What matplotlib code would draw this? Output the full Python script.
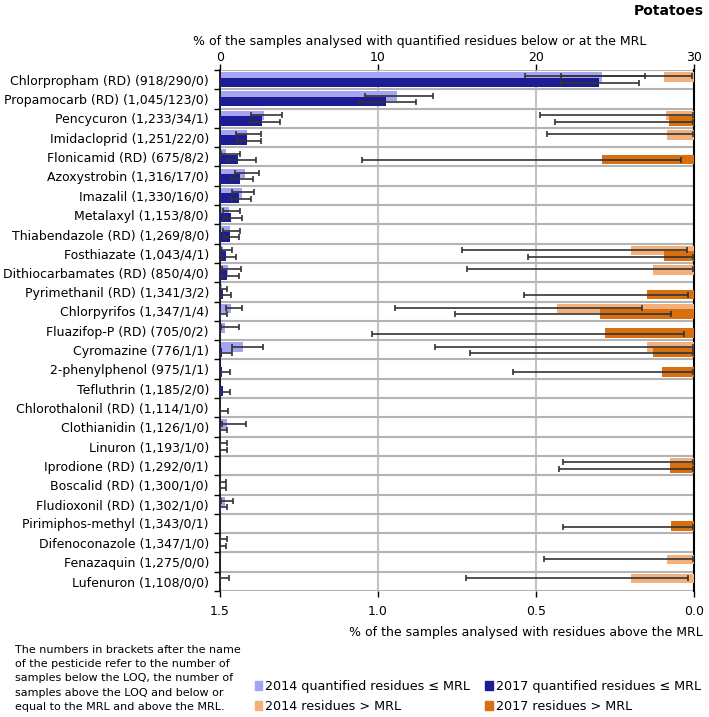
import numpy as np
import matplotlib
matplotlib.use('Agg')
import matplotlib.pyplot as plt
from matplotlib.patches import Patch

plt.rcParams['font.family'] = ['DejaVu Sans']

# -------------------------------
# Data
# -------------------------------
pesticides = [
    'Chlorpropham (RD) (918/290/0)', 'Propamocarb (RD) (1,045/123/0)',
    'Pencycuron (1,233/34/1)', 'Imidacloprid (1,251/22/0)',
    'Flonicamid (RD) (675/8/2)', 'Azoxystrobin (1,316/17/0)',
    'Imazalil (1,330/16/0)', 'Metalaxyl (1,153/8/0)',
    'Thiabendazole (RD) (1,269/8/0)', 'Fosthiazate (1,043/4/1)',
    'Dithiocarbamates (RD) (850/4/0)', 'Pyrimethanil (RD) (1,341/3/2)',
    'Chlorpyrifos (1,347/1/4)', 'Fluazifop-P (RD) (705/0/2)',
    'Cyromazine (776/1/1)', '2-phenylphenol (975/1/1)',
    'Tefluthrin (1,185/2/0)', 'Chlorothalonil (RD) (1,114/1/0)',
    'Clothianidin (1,126/1/0)', 'Linuron (1,193/1/0)',
    'Iprodione (RD) (1,292/0/1)', 'Boscalid (RD) (1,300/1/0)',
    'Fludioxonil (RD) (1,302/1/0)', 'Pirimiphos-methyl (1,343/0/1)',
    'Difenoconazole (1,347/1/0)', 'Fenazaquin (1,275/0/0)',
    'Lufenuron (1,108/0/0)',
]
nan = np.nan

# % quantified residues <= MRL, 2014 (value, CI low, CI high)
q2014 = [24.2, 11.2, 2.78, 1.73, 0.36, 1.58, 1.37, 0.57, 0.61, 0.21, 0.51, 0.10, 0.72, 0.34,
         1.48, nan, nan, nan, 0.46, 0.08, nan, 0.07, 0.30, nan, 0.07, nan, 0.05]
q2014_lo = [19.3, 9.2, 1.94, 1.03, 0.08, 0.95, 0.78, 0.21, 0.20, 0.04, 0.10, 0.0, 0.36, 0.04,
            0.74, nan, nan, nan, 0.15, 0.0, nan, 0.0, 0.04, nan, 0.0, nan, 0.0]
q2014_hi = [26.9, 13.5, 3.95, 2.62, 1.24, 2.45, 2.15, 1.27, 1.25, 0.78, 1.35, 0.42, 1.37, 1.18,
            2.72, nan, nan, nan, 1.62, 0.46, nan, 0.40, 0.84, nan, 0.42, nan, 0.57]

# % quantified residues <= MRL, 2017
q2017 = [24.0, 10.5, 2.68, 1.73, 1.17, 1.28, 1.19, 0.69, 0.63, 0.38, 0.47, 0.22, 0.074, nan,
         0.129, 0.102, 0.168, 0.09, 0.089, 0.084, nan, 0.077, 0.077, nan, 0.074, nan, nan]
q2017_lo = [21.6, 8.8, 1.88, 1.10, 0.46, 0.72, 0.68, 0.25, 0.25, 0.10, 0.15, 0.04, 0.0, nan,
            0.0, 0.0, 0.0, 0.0, 0.0, 0.0, nan, 0.0, 0.0, nan, 0.0, nan, nan]
q2017_hi = [26.5, 12.4, 3.78, 2.62, 2.30, 2.07, 1.94, 1.37, 1.23, 0.99, 1.20, 0.68, 0.42, nan,
            0.74, 0.61, 0.63, 0.53, 0.46, 0.46, nan, 0.40, 0.42, nan, 0.38, nan, nan]

# % residues > MRL, 2014
m2014 = [0.095, nan, 0.089, 0.084, nan, nan, nan, nan, nan, 0.20, 0.129, nan, 0.435, nan,
         0.148, nan, nan, nan, nan, nan, 0.076, nan, nan, nan, nan, 0.084, 0.20]
m2014_lo = [0.005, nan, 0.002, 0.002, nan, nan, nan, nan, nan, 0.023, 0.002, nan, 0.163, nan,
            0.002, nan, nan, nan, nan, nan, 0.002, nan, nan, nan, nan, 0.002, 0.018]
m2014_hi = [0.42, nan, 0.487, 0.465, nan, nan, nan, nan, nan, 0.734, 0.719, nan, 0.946, nan,
            0.818, nan, nan, nan, nan, nan, 0.416, nan, nan, nan, nan, 0.476, 0.72]

# % residues > MRL, 2017
m2017 = [nan, nan, 0.079, nan, 0.292, nan, nan, nan, nan, 0.095, nan, 0.148, 0.296, 0.283,
         0.129, 0.102, nan, nan, nan, nan, 0.077, nan, nan, 0.074, nan, nan, nan]
m2017_lo = [nan, nan, 0.002, nan, 0.041, nan, nan, nan, nan, 0.002, nan, 0.018, 0.074, 0.032,
            0.002, 0.002, nan, nan, nan, nan, 0.002, nan, nan, 0.002, nan, nan, nan]
m2017_hi = [nan, nan, 0.439, nan, 1.05, nan, nan, nan, nan, 0.525, nan, 0.538, 0.756, 1.02,
            0.709, 0.572, nan, nan, nan, nan, 0.427, nan, nan, 0.415, nan, nan, nan]

# -------------------------------
# Colours
# -------------------------------
C14Q = '#a4a4f0'
C17Q = '#1c1c94'
C14M = '#f4b07a'
C17M = '#d9700f'
ERR = '#333333'
FS = 9

fig = plt.figure(figsize=(7.09, 7.17), dpi=100)
ax = fig.add_axes([0.3103, 0.1757, 0.6685, 0.7267])
ax2 = ax.twiny()

y = np.arange(len(pesticides))
OFF_BAR = 0.14
OFF_ERR = 0.17
H = 0.5


def draw(axis, vals, lo, hi, yoff, color, z):
    vals = np.array(vals, dtype=float)
    lo = np.array(lo, dtype=float)
    hi = np.array(hi, dtype=float)
    axis.barh(y + yoff, np.nan_to_num(vals), height=H, color=color, zorder=z)
    ok = ~np.isnan(vals)
    return ok, vals, lo, hi


# quantified residues (top axis, 0..30)
s14 = draw(ax, q2014, q2014_lo, q2014_hi, -OFF_BAR, C14Q, 2)
s17 = draw(ax, q2017, q2017_lo, q2017_hi, OFF_BAR, C17Q, 3)
for (ok, v, lo, hi), off in [(s14, -OFF_ERR), (s17, OFF_ERR)]:
    ax.errorbar(v[ok], y[ok] + off, xerr=[v[ok] - lo[ok], hi[ok] - v[ok]], fmt='none',
                ecolor=ERR, elinewidth=1.2, capsize=2.2, capthick=1.2, zorder=5)

# residues above MRL (bottom axis, reversed 1.5..0)
s14m = draw(ax2, m2014, m2014_lo, m2014_hi, -OFF_BAR, C14M, 2)
s17m = draw(ax2, m2017, m2017_lo, m2017_hi, OFF_BAR, C17M, 3)
for (ok, v, lo, hi), off in [(s14m, -OFF_ERR), (s17m, OFF_ERR)]:
    ax2.errorbar(v[ok], y[ok] + off, xerr=[v[ok] - lo[ok], hi[ok] - v[ok]], fmt='none',
                 ecolor=ERR, elinewidth=1.2, capsize=2.2, capthick=1.2, zorder=5)

# row separators
for b in np.arange(-0.5, len(pesticides), 1):
    ax.axhline(b, color='#b4b4b4', lw=1.5, zorder=1)

ax.set_ylim(len(pesticides) - 0.5, -0.5)
ax.set_xlim(0, 30)
ax2.set_xlim(1.5, 0)

ax.set_yticks(y)
ax.set_yticklabels(pesticides, fontsize=FS)
ax.set_yticks(np.arange(-0.5, len(pesticides), 1), minor=True)
ax.tick_params(axis='y', which='major', length=0, pad=8)
ax.tick_params(axis='y', which='minor', length=4, width=1, left=True)

ax.set_xticks([0, 10, 20, 30])
ax.xaxis.tick_top()
ax.xaxis.set_label_position('top')
ax.tick_params(axis='x', length=4, width=1, labelsize=FS, pad=0.5)
ax.set_xlabel('% of the samples analysed with quantified residues below or at the MRL',
              fontsize=FS, labelpad=4)
ax.xaxis.label.set_x(0.422)
ax.xaxis.grid(True, color='#c4c4c4', lw=1.5, zorder=0)
ax.set_axisbelow(True)

ax2.set_xticks([1.5, 1.0, 0.5, 0.0])
ax2.set_xticklabels(['1.5', '1.0', '0.5', '0.0'])
ax2.xaxis.set_ticks_position('bottom')
ax2.xaxis.set_label_position('bottom')
ax2.tick_params(axis='x', length=4, width=1, labelsize=FS, pad=6)
ax2.set_xlabel('% of the samples analysed with residues above the MRL', fontsize=FS,
               ha='right')
ax2.xaxis.set_label_coords(1.019, -0.067)

for a in (ax, ax2):
    for s in a.spines.values():
        s.set_visible(False)
ax.spines['left'].set_visible(True)
ax.spines['left'].set_linewidth(1.2)
ax.spines['right'].set_visible(True)
ax.spines['right'].set_linewidth(1.5)

fig.text(0.993, 0.995, 'Potatoes', ha='right', va='top', fontsize=10, fontweight='bold')

fig.text(0.021, 0.100,
         'The numbers in brackets after the name\n'
         'of the pesticide refer to the number of\n'
         'samples below the LOQ, the number of\n'
         'samples above the LOQ and below or\n'
         'equal to the MRL and above the MRL.',
         ha='left', va='top', fontsize=8, linespacing=1.51)

handles = [Patch(color=C14Q), Patch(color=C14M), Patch(color=C17Q), Patch(color=C17M)]
labels = ['2014 quantified residues \u2264 MRL', '2014 residues > MRL',
          '2017 quantified residues \u2264 MRL', '2017 residues > MRL']
fig.legend(handles, labels, ncol=2, loc='upper left', bbox_to_anchor=(0.350, 0.0605),
           frameon=False, fontsize=9.2, handlelength=0.6, handleheight=0.6,
           handletextpad=0.25, columnspacing=1.17, labelspacing=0.55, borderpad=0)

fig.savefig('out.png', dpi=100)
